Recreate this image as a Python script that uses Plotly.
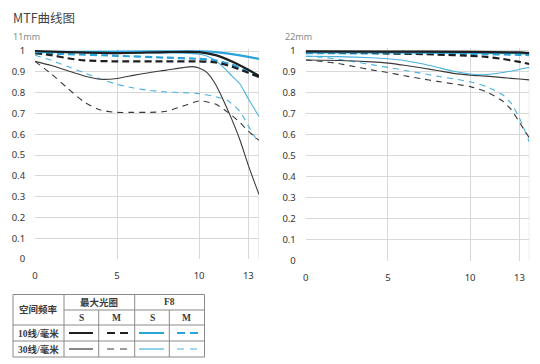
import plotly.graph_objects as go

W, H = 540, 364

# ---------------- data ----------------
# 11mm
x11_max_s10 = [0, 2, 5, 8, 10, 11, 12, 13, 13.65]
y11_max_s10 = [1.0, 0.995, 0.99, 0.995, 0.995, 0.98, 0.95, 0.91, 0.88]
x11_max_m10 = [0, 1, 2, 3, 5, 8, 10, 11, 12, 13, 13.65]
y11_max_m10 = [0.99, 0.98, 0.965, 0.955, 0.95, 0.95, 0.95, 0.945, 0.925, 0.895, 0.875]
x11_f8_s10 = [0, 5, 10, 11, 12, 13, 13.65]
y11_f8_s10 = [0.995, 0.997, 0.998, 0.995, 0.985, 0.972, 0.962]
x11_f8_m10 = [0, 2, 5, 8, 10, 11, 12, 13, 13.65]
y11_f8_m10 = [0.99, 0.985, 0.977, 0.968, 0.962, 0.955, 0.935, 0.9, 0.88]
x11_max_s30 = [0, 1, 2, 3, 4, 5, 6, 7, 8, 9, 9.6, 10, 10.5, 11, 11.5, 12, 12.5, 13, 13.65]
y11_max_s30 = [0.95, 0.93, 0.905, 0.88, 0.864, 0.868, 0.883, 0.897, 0.908, 0.92, 0.925,
               0.918, 0.895, 0.84, 0.76, 0.67, 0.57, 0.45, 0.31]
x11_max_m30 = [0, 1, 2, 3, 4, 5, 6, 7, 8, 9, 10, 10.5, 11, 11.5, 12, 12.5, 13, 13.65]
y11_max_m30 = [0.95, 0.89, 0.82, 0.755, 0.716, 0.705, 0.705, 0.705, 0.71, 0.735, 0.76,
               0.755, 0.745, 0.72, 0.69, 0.655, 0.615, 0.57]
x11_f8_s30 = [0, 5, 9, 10, 10.5, 11, 11.5, 12, 12.5, 13, 13.65]
y11_f8_s30 = [0.995, 0.99, 0.99, 0.985, 0.975, 0.955, 0.92, 0.88, 0.84, 0.77, 0.685]
x11_f8_m30 = [0, 1, 2, 3, 4, 5, 6, 7, 8, 9, 10, 11, 11.7, 12.5, 13, 13.65]
y11_f8_m30 = [0.98, 0.955, 0.925, 0.895, 0.865, 0.84, 0.822, 0.81, 0.803, 0.8, 0.795,
              0.78, 0.764, 0.708, 0.64, 0.555]

# 22mm
x22_max_s10 = [0, 5, 10, 13, 13.6]
y22_max_s10 = [0.998, 0.997, 0.996, 0.993, 0.99]
x22_max_m10 = [0, 3, 5, 8, 10, 11, 12, 13, 13.6]
y22_max_m10 = [0.995, 0.992, 0.989, 0.983, 0.977, 0.972, 0.962, 0.948, 0.938]
x22_f8_s10 = [0, 5, 10, 13, 13.6]
y22_f8_s10 = [0.993, 0.993, 0.992, 0.99, 0.988]
x22_f8_m10 = [0, 5, 10, 13, 13.6]
y22_f8_m10 = [0.99, 0.988, 0.986, 0.982, 0.98]
x22_max_s30 = [0, 2, 4, 5, 6, 7, 8, 9, 10, 11, 12, 13, 13.6]
y22_max_s30 = [0.957, 0.955, 0.948, 0.942, 0.932, 0.92, 0.907, 0.893, 0.885, 0.88, 0.873, 0.866, 0.862]
x22_max_m30 = [0, 1, 2, 3, 4, 5, 6, 7, 8, 9, 10, 11, 12, 12.5, 13, 13.6]
y22_max_m30 = [0.957, 0.95, 0.94, 0.925, 0.91, 0.897, 0.882, 0.868, 0.855, 0.843, 0.83,
               0.805, 0.76, 0.72, 0.66, 0.585]
x22_f8_s30 = [0, 2, 4, 5, 6, 7, 8, 9, 10, 10.5, 11, 12, 13, 13.6]
y22_f8_s30 = [0.975, 0.973, 0.968, 0.963, 0.955, 0.94, 0.922, 0.903, 0.89, 0.887, 0.888,
              0.897, 0.912, 0.922]
x22_f8_m30 = [0, 1, 2, 3, 4, 5, 6, 7, 8, 9, 10, 11, 12, 12.5, 13, 13.6]
y22_f8_m30 = [0.975, 0.97, 0.96, 0.948, 0.935, 0.922, 0.908, 0.894, 0.88, 0.867, 0.853,
              0.83, 0.79, 0.75, 0.68, 0.565]

x_ticks = [0, 5, 10, 13]
y_ticks = [0, 0.1, 0.2, 0.3, 0.4, 0.5, 0.6, 0.7, 0.8, 0.9, 1]
y_tick_text = ["0", "0.1", "0.2", "0.3", "0.4", "0.5", "0.6", "0.7", "0.8", "0.9", "1"]

title_text = "MTF曲线图"
panel_titles = ["11mm", "22mm"]
col_header = "空间频率"
group_headers = ["最大光圈", "F8"]
sub_headers = ["S", "M", "S", "M"]
row_headers = ["10线/毫米", "30线/毫米"]

# ---------------- styles ----------------
BLACK = "#1e1e1e"
BLACK_THIN = "#3a3a3a"
BLUE = "#2aa3da"
BLUE_THIN = "#4ab2e0"
GRID = "#d8d8d8"

styles = {
    "max_s10": dict(color=BLACK, width=2.2, dash="solid"),
    "max_m10": dict(color=BLACK, width=2.2, dash="7px,4px"),
    "f8_s10": dict(color=BLUE, width=2.2, dash="solid"),
    "f8_m10": dict(color=BLUE, width=2.2, dash="7px,4px"),
    "max_s30": dict(color=BLACK_THIN, width=1.1, dash="solid"),
    "max_m30": dict(color=BLACK_THIN, width=1.1, dash="6px,5px"),
    "f8_s30": dict(color=BLUE_THIN, width=1.1, dash="solid"),
    "f8_m30": dict(color=BLUE_THIN, width=1.1, dash="6px,5px"),
}

fig = go.Figure()

panels = [
    ("x", "y", [
        ("f8_m30", x11_f8_m30, y11_f8_m30),
        ("max_m30", x11_max_m30, y11_max_m30),
        ("f8_s30", x11_f8_s30, y11_f8_s30),
        ("max_s30", x11_max_s30, y11_max_s30),
        ("f8_m10", x11_f8_m10, y11_f8_m10),
        ("max_m10", x11_max_m10, y11_max_m10),
        ("f8_s10", x11_f8_s10, y11_f8_s10),
        ("max_s10", x11_max_s10, y11_max_s10),
    ]),
    ("x2", "y2", [
        ("f8_m30", x22_f8_m30, y22_f8_m30),
        ("max_m30", x22_max_m30, y22_max_m30),
        ("max_s30", x22_max_s30, y22_max_s30),
        ("f8_s30", x22_f8_s30, y22_f8_s30),
        ("f8_m10", x22_f8_m10, y22_f8_m10),
        ("max_m10", x22_max_m10, y22_max_m10),
        ("f8_s10", x22_f8_s10, y22_f8_s10),
        ("max_s10", x22_max_s10, y22_max_s10),
    ]),
]

for xa, ya, series in panels:
    for key, xs, ys in series:
        st = styles[key]
        fig.add_trace(go.Scatter(
            x=xs, y=ys, xaxis=xa, yaxis=ya, mode="lines",
            line=dict(color=st["color"], width=st["width"], dash=st["dash"],
                      shape="spline", smoothing=0.6),
            showlegend=False, hoverinfo="skip"))


def px(x):
    return x / W


def py(y):
    return 1 - y / H


YMAX = 1.012
tick_font = dict(family="Noto Sans, DejaVu Sans, sans-serif", size=9.5, color="#333")


def xaxis_cfg(left, right, xmax):
    return dict(domain=[px(left), px(right)], range=[0, xmax], tickvals=x_ticks,
                showgrid=True, gridcolor=GRID, gridwidth=1, zeroline=False,
                showline=False, ticks="outside", ticklen=8, tickcolor="rgba(0,0,0,0)",
                tickfont=tick_font, fixedrange=True, automargin=False)


def yaxis_cfg(y0px, y1px, anchor):
    top = y1px - (YMAX - 1) * (y0px - y1px)
    return dict(domain=[py(y0px), py(top)], range=[0, YMAX], tickvals=y_ticks,
                ticktext=y_tick_text, showgrid=True, gridcolor=GRID, gridwidth=1,
                zeroline=False, showline=False, ticks="outside", ticklen=7,
                tickcolor="rgba(0,0,0,0)", tickfont=tick_font, anchor=anchor,
                fixedrange=True, automargin=False)


fig.update_layout(
    width=W, height=H, margin=dict(l=0, r=0, t=0, b=0, autoexpand=False),
    paper_bgcolor="white", plot_bgcolor="white",
    xaxis=xaxis_cfg(35, 259, 13.65),
    yaxis=yaxis_cfg(259, 51, "x"),
    xaxis2=dict(xaxis_cfg(305.7, 529.3, 13.6), anchor="y2"),
    yaxis2=yaxis_cfg(260.5, 51, "x2"),
)

shapes = []
for xa, ya, xmax in [("x", "y", 13.65), ("x2", "y2", 13.6)]:
    shapes.append(dict(type="line", xref=xa, yref=ya, x0=xmax, x1=xmax, y0=0, y1=1,
                       line=dict(color=GRID, width=1), layer="below"))

annotations = []
cjk = "Noto Sans CJK SC, sans-serif"
annotations.append(dict(text=title_text, x=px(11), y=py(17), xref="paper", yref="paper",
                        xanchor="left", yanchor="middle", showarrow=False,
                        font=dict(family=cjk, size=12.5, color="#444")))
for t, xx in zip(panel_titles, [11, 283]):
    annotations.append(dict(text=t, x=px(xx), y=py(37), xref="paper", yref="paper",
                            xanchor="left", yanchor="middle", showarrow=False,
                            font=dict(family="Noto Sans, sans-serif", size=9, color="#888")))

# ---------------- legend table ----------------
TL, TR, TT, TB = 13, 204.5, 294.5, 357
c1, c2, c3, c4 = 64, 98.7, 134.7, 169.3
r1, r2, r3 = 310, 325, 341
TC = "#8a8a8a"


def hline(x0, x1, y):
    shapes.append(dict(type="line", xref="paper", yref="paper", x0=px(x0), x1=px(x1),
                       y0=py(y), y1=py(y), line=dict(color=TC, width=1)))


def vline(x, y0, y1):
    shapes.append(dict(type="line", xref="paper", yref="paper", x0=px(x), x1=px(x),
                       y0=py(y0), y1=py(y1), line=dict(color=TC, width=1)))


hline(TL, TR, TT)
hline(TL, TR, TB)
hline(c1, TR, r1)
hline(TL, TR, r2)
hline(TL, TR, r3)
vline(TL, TT, TB)
vline(TR, TT, TB)
vline(c1, TT, TB)
vline(c3, TT, TB)
vline(c2, r1, TB)
vline(c4, r1, TB)

serif = "Liberation Serif, Noto Sans CJK SC, serif"


def txt(t, x, y, size=9.5, bold=True):
    annotations.append(dict(text=("<b>%s</b>" % t) if bold else t, x=px(x), y=py(y),
                            xref="paper", yref="paper", xanchor="center",
                            yanchor="middle", showarrow=False,
                            font=dict(family=serif, size=size, color="#3a3a3a")))


txt(col_header, (TL + c1) / 2, (TT + r2) / 2)
txt(group_headers[0], (c1 + c3) / 2, (TT + r1) / 2)
txt(group_headers[1], (c3 + TR) / 2, (TT + r1) / 2)
for s, (a, b) in zip(sub_headers, [(c1, c2), (c2, c3), (c3, c4), (c4, TR)]):
    txt(s, (a + b) / 2, (r1 + r2) / 2)
txt(row_headers[0], (TL + c1) / 2, (r2 + r3) / 2)
txt(row_headers[1], (TL + c1) / 2, (r3 + TB) / 2)

rows = [((r2 + r3) / 2, ["max_s10", "max_m10", "f8_s10", "f8_m10"]),
        ((r3 + TB) / 2, ["max_s30", "max_m30", "f8_s30", "f8_m30"])]
spans = [(69, 93), (107, 129), (139, 164), (177, 199)]
for yy, keys in rows:
    for key, (a, b) in zip(keys, spans):
        st = styles[key]
        dash = st["dash"]
        if dash != "solid":
            dash = "8px,5px" if st["width"] > 2 else "7px,6px"
        shapes.append(dict(type="line", xref="paper", yref="paper", x0=px(a), x1=px(b),
                           y0=py(yy), y1=py(yy),
                           line=dict(color=st["color"], width=2.0 if st["width"] > 2 else 1.2,
                                     dash=dash)))

fig.update_layout(shapes=shapes, annotations=annotations)
fig.write_html("out.html", config={"displayModeBar": False},
               post_script="document.body.style.margin='0';document.body.style.overflow='hidden';")
